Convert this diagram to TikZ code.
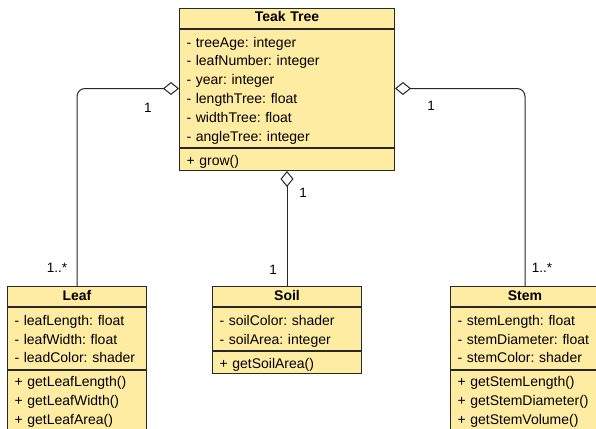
\documentclass[tikz,border=0pt]{standalone}
\usepackage{fontspec}
\setmainfont{Liberation Sans}
\usetikzlibrary{positioning,arrows.meta}
\definecolor{classfill}{RGB}{255,236,163}
\definecolor{edgecol}{RGB}{40,40,40}
\newcommand{\rw}{\rule[-3.75pt]{0pt}{18.75pt}}
\frenchspacing

\begin{document}
\begin{tikzpicture}[x=1pt,y=-1pt,line width=1pt,
  every node/.style={font=\fontsize{14}{18.75}\selectfont},
  cname/.style={draw=edgecol,fill=classfill,text width=#1,align=center,font=\fontsize{14}{18.75}\selectfont\bfseries,
    minimum height=20pt,inner xsep=7pt,inner ysep=0pt,text height=10pt,text depth=3pt},
  attrs/.style={draw=edgecol,fill=classfill,text width=#1,align=left,inner xsep=7pt,inner ysep=2.75pt},
  ops/.style={draw=edgecol,fill=classfill,text width=#1,align=left,inner xsep=7pt,inner ysep=1.6pt},
  agg/.style={draw=edgecol,rounded corners=8pt,-{Diamond[open,length=16pt,width=13pt]}},
  mult/.style={font=\fontsize{13.5}{15}\selectfont,inner sep=0pt}]
\useasboundingbox (0,0) rectangle (596,428);

\node[cname=201pt,anchor=north] (teak) at (287,8) {Teak Tree};
\node[attrs=201pt,below=0pt of teak] (teak-attr) {\rw- treeAge: integer\\ \rw- leafNumber: integer\\ \rw- year: integer\\
  \rw- lengthTree: float\\ \rw- widthTree: float\\ \rw- angleTree: integer};
\node[ops=201pt,below=0pt of teak-attr] (teak-ops) {\rw+ grow()};

\node[cname=125pt,anchor=north] (leaf) at (77,286) {Leaf};
\node[attrs=125pt,below=0pt of leaf] (leaf-attr) {\rw- leafLength: float\\ \rw- leafWidth: float\\ \rw- leadColor: shader};
\node[ops=125pt,below=0pt of leaf-attr] (leaf-ops) {\rw+ getLeafLength()\\ \rw+ getLeafWidth()\\ \rw+ getLeafArea()};

\node[cname=135pt,anchor=north] (soil) at (287,286) {Soil};
\node[attrs=135pt,below=0pt of soil] (soil-attr) {\rw- soilColor: shader\\ \rw- soilArea: integer};
\node[ops=135pt,below=0pt of soil-attr] (soil-ops) {\rw+ getSoilArea()};

\node[cname=135pt,anchor=north] (stem) at (525,286) {Stem};
\node[attrs=135pt,below=0pt of stem] (stem-attr) {\rw- stemLength: float\\ \rw- stemDiameter: float\\ \rw- stemColor: shader};
\node[ops=135pt,below=0pt of stem-attr] (stem-ops) {\rw+ getStemLength()\\ \rw+ getStemDiameter()\\ \rw+ getStemVolume()};

\draw[agg] (leaf.north) |- (teak-attr.west);
\draw[agg] (soil.north) -- (teak-ops.south);
\draw[agg] (stem.north) |- (teak-attr.east);

\node[mult] (leaf-m1) at (148,108) {1};
\node[mult] (leaf-m2) at (57,268) {1..*};
\node[mult] (soil-m1) at (303,193) {1};
\node[mult] (soil-m2) at (273,270) {1};
\node[mult] (stem-m1) at (431,106) {1};
\node[mult] (stem-m2) at (542,268) {1..*};
\end{tikzpicture}
\end{document}
